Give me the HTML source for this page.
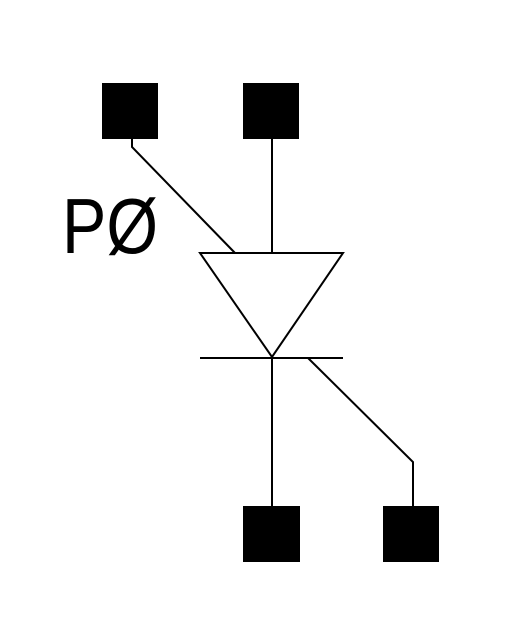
<!DOCTYPE html>
<html>
<head>
<meta charset="utf-8">
<style>
  html,body{margin:0;padding:0;background:#fff;}
  svg{display:block;}
</style>
</head>
<body>
<svg width="509" height="623" viewBox="0 0 509 623" xmlns="http://www.w3.org/2000/svg">
  <rect x="0" y="0" width="509" height="623" fill="#fff"/>
  <g fill="#000">
    <rect x="102" y="83" width="56" height="56"/>
    <rect x="243" y="83" width="56" height="56"/>
    <rect x="243" y="506" width="57" height="56"/>
    <rect x="383" y="506" width="56" height="56"/>
  </g>
  <g stroke="#000" stroke-width="2" fill="none">
    <polyline points="132,139 132,147 235,253"/>
    <line x1="272" y1="139" x2="272" y2="253"/>
    <polygon points="200,253 343,253 272,357"/>
    <line x1="200" y1="358" x2="343" y2="358"/>
    <line x1="272" y1="357" x2="272" y2="506"/>
    <polyline points="308,358 413,462 413,506"/>
  </g>
  <text x="62" y="253" font-family="'Liberation Sans', 'DejaVu Sans', sans-serif" font-size="78" textLength="96" lengthAdjust="spacingAndGlyphs" fill="#000">PØ</text>
</svg>
</body>
</html>
